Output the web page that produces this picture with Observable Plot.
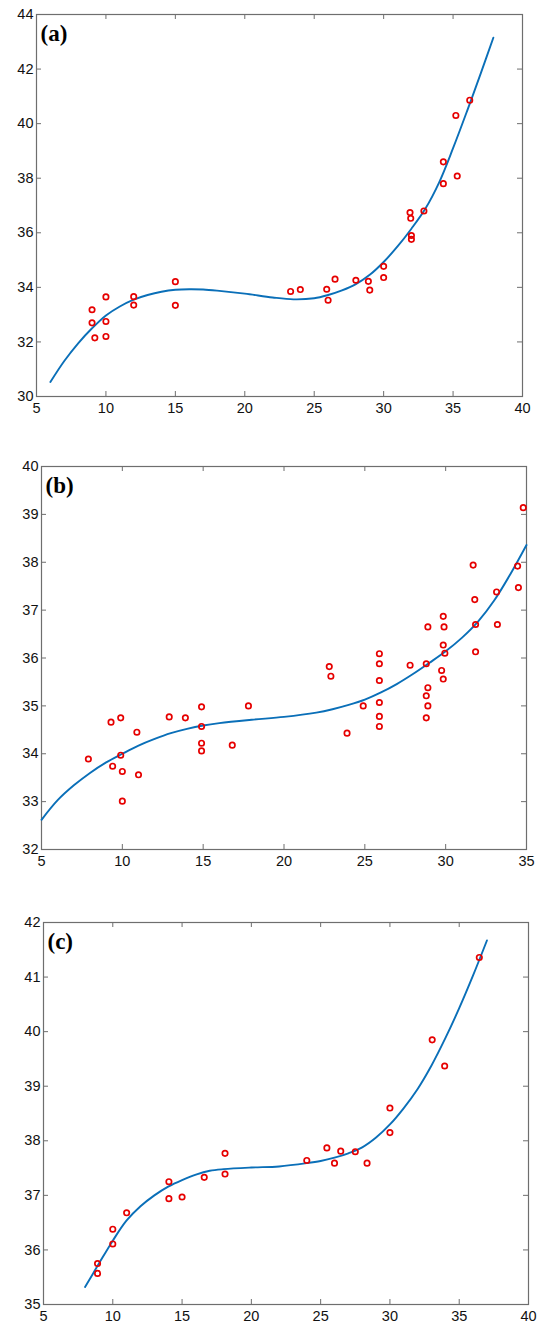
<!DOCTYPE html>
<html>
<head>
<meta charset="utf-8">
<script src="https://cdn.jsdelivr.net/npm/d3@7"></script>
<script src="https://cdn.jsdelivr.net/npm/@observablehq/plot@0.6"></script>
<style>
  html, body { margin: 0; padding: 0; background: #fff; }
  #chart svg { display: block; }
</style>
</head>
<body>
<div id="chart"></div>
<script>
// ---------- Panel (a) ----------
const aPointX = [9, 9, 9.2, 10, 10, 10, 12, 12, 15, 15, 23.3, 24, 25.9, 26, 26.5, 28, 28.9, 29, 30, 30, 31.9, 31.95, 32, 32, 32.9, 34.3, 34.3, 35.3, 35.2, 36.2];
const aPointY = [33.18, 32.7, 32.15, 33.65, 32.75, 32.2, 33.66, 33.35, 34.21, 33.34, 33.85, 33.92, 33.93, 33.53, 34.3, 34.26, 34.22, 33.9, 34.77, 34.36, 36.74, 36.53, 35.9, 35.76, 36.8, 38.6, 37.8, 38.08, 40.3, 40.86];
const aCurveX = [6, 7, 8, 9, 10, 11, 12, 13, 14, 15, 16, 17, 18, 20, 22, 23.5, 25, 26, 27, 28, 29, 30, 31, 32, 33, 34, 35, 36, 37, 37.9];
const aCurveY = [30.53, 31.3, 31.95, 32.5, 32.97, 33.3, 33.55, 33.72, 33.84, 33.91, 33.93, 33.92, 33.88, 33.77, 33.63, 33.56, 33.6, 33.72, 33.89, 34.12, 34.46, 34.93, 35.5, 36.15, 36.88, 37.85, 39.1, 40.45, 41.85, 43.15];
const aXTicks = [5, 10, 15, 20, 25, 30, 35, 40];
const aYTicks = [30, 32, 34, 36, 38, 40, 42, 44];

// ---------- Panel (b) ----------
const bPointX = [7.9, 9.3, 9.9, 9.4, 9.9, 10, 10, 10.9, 11, 12.9, 13.9, 14.9, 14.9, 14.9, 14.9, 16.8, 17.8, 22.8, 22.9, 23.9, 24.9, 25.9, 25.9, 25.9, 25.9, 25.9, 25.9, 27.8, 28.8, 28.9, 28.8, 28.9, 28.8, 28.9, 29.75, 29.85, 29.85, 29.95, 29.85, 29.9, 31.7, 31.8, 31.85, 31.85, 33.15, 33.2, 34.45, 34.5, 34.8];
const bPointY = [33.89, 34.66, 34.75, 33.74, 33.97, 33.63, 33.01, 34.45, 33.56, 34.77, 34.75, 34.98, 34.57, 34.22, 34.06, 34.18, 35.0, 35.82, 35.62, 34.43, 35.0, 36.09, 35.88, 35.53, 35.07, 34.78, 34.57, 35.85, 35.88, 35.38, 35.21, 35.0, 34.75, 36.65, 35.74, 35.56, 36.27, 36.1, 36.87, 36.65, 37.94, 37.22, 36.7, 36.13, 37.38, 36.7, 37.92, 37.47, 39.14];
const bCurveX = [5, 6, 7, 8, 9, 10, 11, 12, 13, 14, 15, 16, 18, 20, 22, 23, 24, 25, 26, 27, 28, 29, 30, 31, 32, 33, 34, 35];
const bCurveY = [32.62, 33.03, 33.34, 33.6, 33.82, 34.0, 34.17, 34.31, 34.43, 34.52, 34.59, 34.64, 34.71, 34.77, 34.86, 34.93, 35.02, 35.13, 35.28, 35.46, 35.67, 35.9, 36.14, 36.42, 36.76, 37.2, 37.75, 38.36];
const bXTicks = [5, 10, 15, 20, 25, 30, 35];
const bYTicks = [32, 33, 34, 35, 36, 37, 38, 39, 40];

// ---------- Panel (c) ----------
const cPointX = [8.9, 8.9, 10, 10, 11, 14.05, 14.05, 15, 16.6, 18.1, 18.1, 24, 25.45, 26, 26.45, 27.5, 28.35, 30, 30, 33.05, 33.95, 36.45];
const cPointY = [35.75, 35.57, 36.38, 36.11, 36.68, 37.25, 36.94, 36.97, 37.33, 37.77, 37.39, 37.64, 37.87, 37.59, 37.81, 37.8, 37.59, 38.15, 38.6, 39.85, 39.37, 41.36];
const cCurveX = [8, 9, 10, 11, 12, 13, 14, 15, 16, 17, 18, 20, 22, 24, 25, 26, 27, 28, 29, 30, 31, 32, 33, 34, 35, 36, 37];
const cCurveY = [35.32, 35.75, 36.17, 36.54, 36.8, 37.0, 37.16, 37.28, 37.38, 37.45, 37.48, 37.51, 37.53, 37.59, 37.63, 37.69, 37.77, 37.88, 38.06, 38.3, 38.6, 38.95, 39.38, 39.88, 40.43, 41.03, 41.67];
const cXTicks = [5, 10, 15, 20, 25, 30, 35, 40];
const cYTicks = [35, 36, 37, 38, 39, 40, 41, 42];

const zip = (xs, ys) => xs.map((x, i) => ({x, y: ys[i]}));

const FRAME = "#6e6e6e";
const TICKLEN = 5;

function panel({label, points, curve, xTicks, yTicks, height, mt, mb, ml, mr, labelDy}) {
  const W = 541;
  const plotH = height - mt - mb;
  const plotW = W - ml - mr;
  const xDom = [xTicks[0], xTicks[xTicks.length - 1]];
  const yDom = [yTicks[0], yTicks[yTicks.length - 1]];
  return Plot.plot({
    width: W,
    height,
    marginTop: mt, marginBottom: mb, marginLeft: ml, marginRight: mr,
    style: {background: "#fff", fontFamily: "'Liberation Sans', Arial, sans-serif"},
    x: {domain: xDom},
    y: {domain: yDom},
    marks: [
      // inward ticks on all four sides
      Plot.ruleX(xTicks, {x: d => d, insetTop: plotH - TICKLEN, stroke: FRAME}),
      Plot.ruleX(xTicks, {x: d => d, insetBottom: plotH - TICKLEN, stroke: FRAME}),
      Plot.ruleY(yTicks, {y: d => d, insetRight: plotW - TICKLEN, stroke: FRAME}),
      Plot.ruleY(yTicks, {y: d => d, insetLeft: plotW - TICKLEN, stroke: FRAME}),
      Plot.frame({stroke: FRAME, strokeWidth: 1.2}),
      Plot.axisX(xTicks, {tickSize: 0, tickPadding: 6, fontSize: 14.5, fill: "#111", label: null, tickFormat: d => String(d)}),
      Plot.axisY(yTicks, {tickSize: 0, tickPadding: 3, fontSize: 14.5, fill: "#111", label: null, tickFormat: d => String(d)}),
      Plot.line(curve, {x: "x", y: "y", curve: "catmull-rom", stroke: "#0a6fb8", strokeWidth: 1.9}),
      Plot.dot(points, {x: "x", y: "y", r: 2.7, stroke: "#e60000", strokeWidth: 1.7, fill: "none"}),
      Plot.text([label], {
        frameAnchor: "top-left", textAnchor: "start", lineAnchor: "top",
        dx: 4, dy: labelDy,
        fontFamily: "'Liberation Serif', 'Times New Roman', serif",
        fontWeight: "bold", fontSize: 23, fill: "#000"
      })
    ]
  });
}

const root = document.getElementById("chart");
root.appendChild(panel({
  label: "(a)", points: zip(aPointX, aPointY), curve: zip(aCurveX, aCurveY),
  xTicks: aXTicks, yTicks: aYTicks, height: 440, mt: 14, mb: 44, ml: 36, mr: 19, labelDy: 10
}));
root.appendChild(panel({
  label: "(b)", points: zip(bPointX, bPointY), curve: zip(bCurveX, bCurveY),
  xTicks: bXTicks, yTicks: bYTicks, height: 440, mt: 26, mb: 31, ml: 41, mr: 15, labelDy: 10
}));
root.appendChild(panel({
  label: "(c)", points: zip(cPointX, cPointY), curve: zip(cCurveX, cCurveY),
  xTicks: cXTicks, yTicks: cYTicks, height: 448, mt: 42, mb: 24, ml: 43, mr: 13, labelDy: 10
}));
</script>
</body>
</html>
